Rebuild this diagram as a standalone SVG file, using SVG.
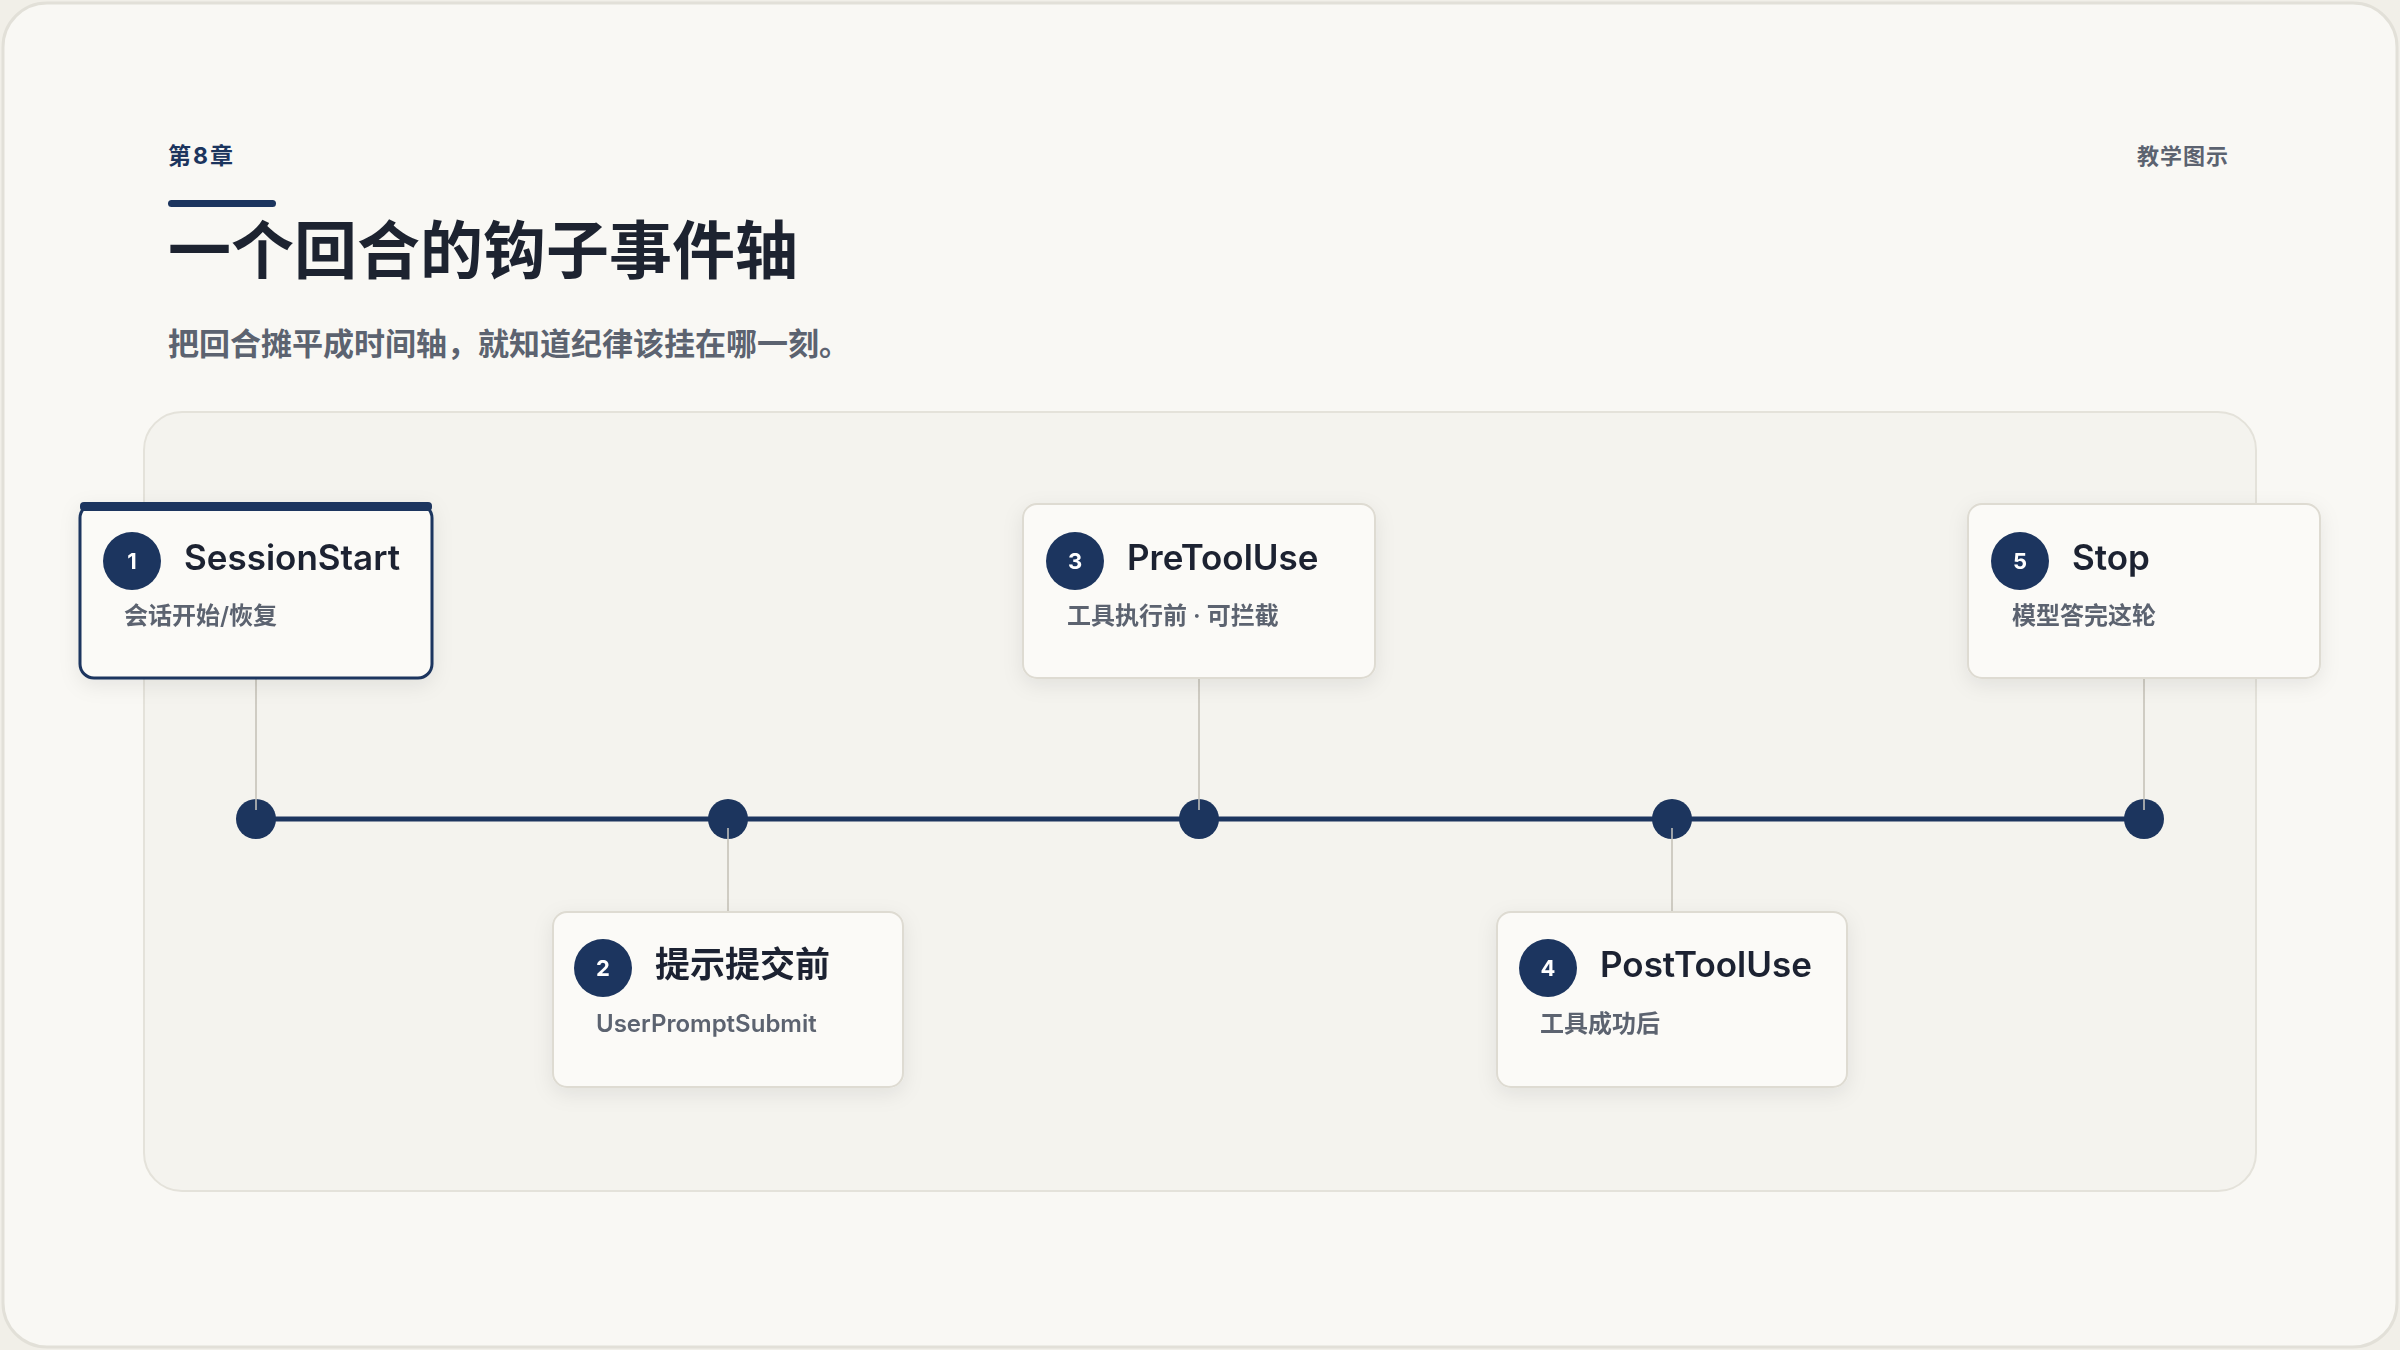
<svg xmlns="http://www.w3.org/2000/svg" width="2400" height="1350" viewBox="0 0 2400 1350">
<defs>
<filter id="sh" x="-20%" y="-20%" width="140%" height="150%"><feDropShadow dx="0" dy="6" stdDeviation="10" flood-color="#2a2a20" flood-opacity="0.08"/></filter>
<style>
.cjk{font-family:Inter,"Noto Sans CJK SC",sans-serif}
.box{fill:#fbfaf7;stroke:#dedbd2;stroke-width:2}
.badge{fill:#1c355e}
.bn{font-family:Inter,sans-serif;font-size:22px;font-weight:700;fill:#fff;text-anchor:middle}
.bt{font-family:Inter,"Noto Sans CJK SC",sans-serif;font-size:35px;font-weight:600;fill:#1d2330}
.bs{font-family:Inter,"Noto Sans CJK SC",sans-serif;font-size:24px;font-weight:600;fill:#5c6370}
.vl{stroke:#cfccc3;stroke-width:2}
.dot{fill:#1c355e}
</style>
</defs>
<rect x="0" y="0" width="2400" height="1350" fill="#f1efe8"/>
<rect x="3" y="3" width="2394" height="1344" rx="44" fill="#f9f8f4" stroke="#e2e0d8" stroke-width="3"/>
<text x="168" y="164" class="cjk" font-size="23" font-weight="700" fill="#1c355e" letter-spacing="2">第8章</text>
<rect x="168" y="200" width="108" height="7" rx="3.5" fill="#1c355e"/>
<text x="168" y="273" class="cjk" font-size="63" font-weight="700" fill="#1d2330">一个回合的钩子事件轴</text>
<text x="168" y="355" class="cjk" font-size="31" font-weight="600" fill="#5c6370">把回合摊平成时间轴，就知道纪律该挂在哪一刻。</text>
<text x="2229" y="164" class="cjk" font-size="22" font-weight="600" fill="#5c6370" text-anchor="end" letter-spacing="1">教学图示</text>
<rect x="144" y="412" width="2112" height="779" rx="38" fill="#f4f3ee" stroke="#e4e2da" stroke-width="2"/>
<g id="connectors">
<line x1="256" y1="678" x2="256" y2="819" class="vl"/>
<line x1="1199" y1="678" x2="1199" y2="819" class="vl"/>
<line x1="2144" y1="678" x2="2144" y2="819" class="vl"/>
<line x1="728" y1="819" x2="728" y2="912" class="vl"/>
<line x1="1672" y1="819" x2="1672" y2="912" class="vl"/>
<line x1="256" y1="819" x2="2144" y2="819" stroke="#1c355e" stroke-width="5"/>
<circle cx="256" cy="819" r="20" class="dot"/>
<circle cx="728" cy="819" r="20" class="dot"/>
<circle cx="1199" cy="819" r="20" class="dot"/>
<circle cx="1672" cy="819" r="20" class="dot"/>
<circle cx="2144" cy="819" r="20" class="dot"/>
<g stroke="#c9c7c0" stroke-width="1.5"><line x1="256" y1="799" x2="256" y2="810"/><line x1="728" y1="828" x2="728" y2="839"/><line x1="1199" y1="799" x2="1199" y2="810"/><line x1="1672" y1="828" x2="1672" y2="839"/><line x1="2144" y1="799" x2="2144" y2="810"/></g>
</g>
<g id="n1" filter="url(#sh)">
<rect x="80" y="504" width="352" height="174" rx="14" fill="#fbfaf7" stroke="#1c355e" stroke-width="3"/>
<rect x="80" y="502" width="352" height="9" rx="4" fill="#1c355e"/>
<circle cx="132" cy="561" r="29" class="badge"/><text x="132" y="569" class="bn">1</text>
<text x="184" y="570" class="bt">SessionStart</text>
<text x="124" y="624" class="bs">会话开始/恢复</text>
</g>
<g id="n2" filter="url(#sh)">
<rect x="553" y="912" width="350" height="175" rx="14" class="box"/>
<circle cx="603" cy="968" r="29" class="badge"/><text x="603" y="976" class="bn">2</text>
<text x="655" y="977" class="bt">提示提交前</text>
<text x="596" y="1032" class="bs">UserPromptSubmit</text>
</g>
<g id="n3" filter="url(#sh)">
<rect x="1023" y="504" width="352" height="174" rx="14" class="box"/>
<circle cx="1075" cy="561" r="29" class="badge"/><text x="1075" y="569" class="bn">3</text>
<text x="1127" y="570" class="bt">PreToolUse</text>
<text x="1067" y="624" class="bs">工具执行前 · 可拦截</text>
</g>
<g id="n4" filter="url(#sh)">
<rect x="1497" y="912" width="350" height="175" rx="14" class="box"/>
<circle cx="1548" cy="968" r="29" class="badge"/><text x="1548" y="976" class="bn">4</text>
<text x="1600" y="977" class="bt">PostToolUse</text>
<text x="1540" y="1032" class="bs">工具成功后</text>
</g>
<g id="n5" filter="url(#sh)">
<rect x="1968" y="504" width="352" height="174" rx="14" class="box"/>
<circle cx="2020" cy="561" r="29" class="badge"/><text x="2020" y="569" class="bn">5</text>
<text x="2072" y="570" class="bt">Stop</text>
<text x="2012" y="624" class="bs">模型答完这轮</text>
</g>
</svg>
